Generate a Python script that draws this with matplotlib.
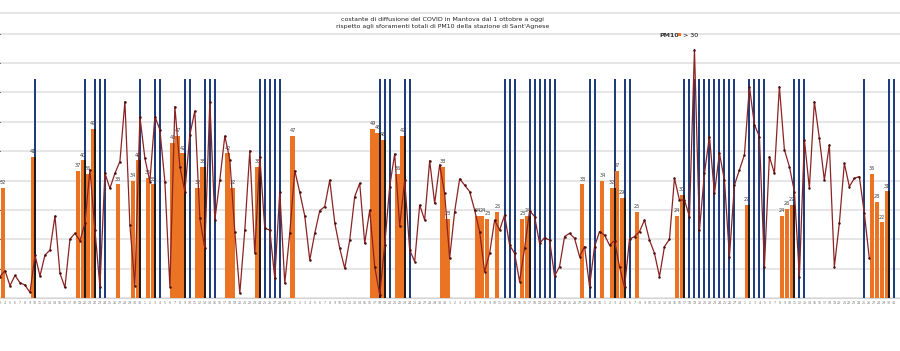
import matplotlib
matplotlib.use("Agg")
from matplotlib import pyplot as plt
import numpy as np
import pandas as pd

# giorni mostrati (il grafico originale parte tagliato al 3 ottobre)
days = pd.date_range("2020-10-03", periods=180)
day_labels = [str(d.day) for d in days]

# costante di diffusione COVID (unita' della griglia)
covid = [
  0.74, 0.94, 0.43, 0.78, 0.53, 0.45, 0.20, 1.47, 0.76, 1.47,
  1.64, 2.80, 0.85, 0.37, 2.01, 2.21, 1.96, 2.55, 4.37, 2.32,
  0.40, 4.25, 3.74, 4.25, 4.65, 6.69, 2.49, 0.42, 6.18, 4.76,
  3.97, 6.18, 5.73, 3.97, 0.40, 6.52, 4.48, 3.63, 5.56, 6.37,
  2.72, 1.70, 6.69, 2.66, 4.02, 5.52, 4.71, 2.27, 0.17, 2.32,
  5.02, 1.53, 4.82, 2.38, 2.32, 0.68, 3.63, 0.51, 2.21, 4.34,
  3.60, 2.80, 1.30, 2.21, 2.98, 3.12, 4.02, 2.57, 1.70, 1.02,
  1.98, 3.46, 3.91, 1.87, 3.00, 1.08, 0.11, 1.81, 3.80, 4.91,
  2.46, 4.02, 1.64, 1.25, 3.17, 2.66, 4.68, 3.23, 4.54, 3.57,
  1.36, 2.95, 4.06, 3.85, 3.63, 3.00, 2.27, 0.91, 1.53, 2.66,
  2.32, 2.83, 1.81, 1.53, 0.57, 1.70, 2.98, 2.78, 1.87, 2.06,
  1.98, 0.76, 1.08, 2.10, 2.21, 2.04, 1.42, 1.76, 0.40, 1.76,
  2.27, 2.15, 1.81, 1.96, 1.08, 0.37, 2.01, 2.10, 2.27, 2.66,
  1.98, 1.53, 0.74, 1.76, 2.01, 4.08, 3.34, 3.34, 2.78, 8.45,
  2.32, 4.25, 5.50, 3.57, 4.93, 4.02, 1.42, 3.85, 4.37, 4.88,
  7.20, 5.90, 5.50, 1.08, 4.82, 4.25, 7.20, 5.05, 4.48, 3.63,
  0.74, 5.39, 3.74, 6.69, 5.44, 4.02, 5.22, 1.08, 2.55, 4.59,
  3.80, 4.08, 4.14, 2.89, 1.36,
]

# PM10 (barre arancioni)
pm10_days = [1, 7, 16, 17, 18, 19, 24, 27, 28, 30, 31, 35, 36, 37, 40, 41,
             46, 47, 52, 59, 75, 76, 77, 80, 81, 89, 90, 96, 97, 98, 100,
             105, 106, 117, 121, 123, 124, 125, 128, 136, 137, 150, 157,
             158, 159, 175, 176, 177, 178]
pm10_vals = [32, 41, 37, 40, 36, 49, 33, 34, 40, 35, 33, 45, 47, 42, 32, 38,
             42, 32, 38, 47, 49, 48, 46, 36, 47, 38, 23, 24, 24, 23, 25,
             23, 24, 33, 34, 32, 37, 29, 25, 24, 30, 27, 24, 26, 27,
             36, 28, 22, 31]

# giorni di sforamento (linee blu)
sfor_days = [7, 17, 19, 20, 21, 28, 31, 32, 37, 38, 41, 42, 43, 52, 53, 54,
             55, 56, 76, 77, 78, 81, 82, 101, 102, 103, 106, 107, 108, 109,
             110, 111, 118, 119, 123, 125, 126, 137, 138, 139, 140, 141, 142,
             143, 144, 145, 146, 147, 150, 151, 152, 153, 159, 160, 161, 173,
             178, 179]
sfor_height = 63.5

ORANGE = "#eb7424"
BLUE = "#1f3d7a"
GRID = "#e4e4e4"


def main():
  fig = plt.figure(figsize=(9, 3.51), dpi=100)
  ax = fig.add_axes([0, 0.1501, 1, 0.812])
  ax.set_xlim(0.14, 180.14)
  ax.set_ylim(0, 9.69)
  ax.set_yticks(range(10))
  ax.yaxis.grid(True, color=GRID, lw=1.3)
  ax.set_axisbelow(True)
  ax.tick_params(axis="y", left=False, labelleft=False)
  for s in ["left", "right"]:
    ax.spines[s].set_visible(False)
  ax.spines["top"].set_color(GRID)
  ax.spines["top"].set_linewidth(1.3)
  ax.spines["bottom"].set_color("#d4d4d4")
  ax.set_xticks(np.arange(len(days)))
  ax.set_xticklabels(day_labels, fontsize=2.3, color="#777777")
  ax.tick_params(axis="x", length=0, pad=2)

  # barre PM10 e sforamenti
  axb = ax.twinx()
  axb.set_ylim(0, 82.6)
  axb.axis("off")
  axb.bar(sfor_days, [sfor_height] * len(sfor_days), width=0.4, color=BLUE, zorder=1)
  bars = axb.bar(np.array(pm10_days) - 0.45, pm10_vals, width=0.85, color=ORANGE, zorder=2)
  pm10 = dict(zip(pm10_days, pm10_vals))
  both = [d for d in sfor_days if d in pm10]
  axb.bar(both, [pm10[d] for d in both], width=0.4, color="#1a1a1a", zorder=3)
  for d, v in zip(pm10_days, pm10_vals):
    axb.text(d - 0.45, v + 0.8, str(v), fontsize=3.6, ha="center", va="bottom",
             color="#404040", zorder=4)

  # costante di diffusione
  axl = ax.twinx()
  axl.set_ylim(0, 9.69)
  axl.axis("off")
  axl.plot(np.arange(len(covid)), covid, color="#8b2323", lw=0.9,
           marker="o", ms=0.8, mfc="#4a0d0d", mec="#4a0d0d")

  fam = ["Liberation Sans Narrow", "DejaVu Sans"]
  fig.text(0.492, 0.934,
           "costante di diffusione del COVID in Mantova dal 1 ottobre a oggi\n"
           "rispetto agli sforamenti totali di PM10 della stazione di Sant'Agnese",
           ha="center", va="center", fontsize=4.5, color="#222222",
           family=fam, linespacing=1.5)

  fig.text(0.755, 0.9, "PM10", ha="right", va="center", fontsize=4.5,
           fontweight="bold", color="#333333", family=fam)
  fig.legend([bars], ["> 30"], loc="center left", bbox_to_anchor=(0.753, 0.9),
             frameon=False, handlelength=0.6, handleheight=0.6,
             handletextpad=0.3, borderaxespad=0, borderpad=0,
             prop={"family": fam, "size": 4.5})

  fig.savefig("out.png", dpi=100)


if __name__ == "__main__":
  main()
